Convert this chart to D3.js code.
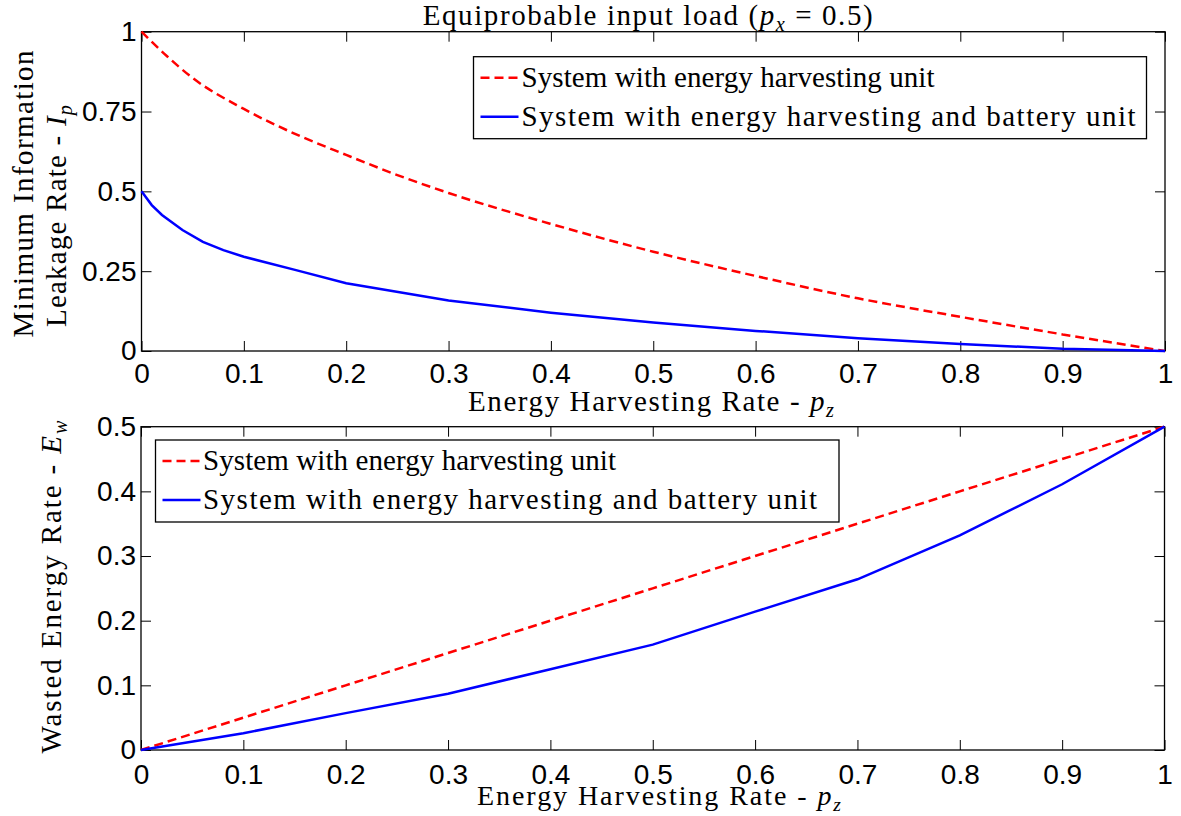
<!DOCTYPE html>
<html>
<head>
<meta charset="utf-8">
<script src="https://cdn.jsdelivr.net/npm/d3@7"></script>
<style>
  body { margin: 0; background: #fff; }
  .serif { font-family: "Liberation Serif", "DejaVu Serif", serif; fill: #000; }
</style>
</head>
<body>
<div class="canvas"></div>
<script>
// x values (energy harvesting rate p_z)
const pzHarvest = [0, 0.025, 0.05, 0.1, 0.15, 0.2, 0.25, 0.3, 0.4, 0.5, 0.6, 0.7, 0.8, 0.9, 1];
const leakHarvest = [1, 0.923, 0.855, 0.758, 0.68, 0.614, 0.551, 0.495, 0.398, 0.311, 0.235, 0.165, 0.107, 0.052, 0];

const pzBattery = [0, 0.01, 0.02, 0.04, 0.06, 0.08, 0.1, 0.15, 0.2, 0.3, 0.4, 0.5, 0.6, 0.7, 0.8, 0.9, 1];
const leakBattery = [0.5, 0.457, 0.426, 0.379, 0.342, 0.316, 0.295, 0.254, 0.212, 0.158, 0.12, 0.089, 0.063, 0.04, 0.022, 0.007, 0];

// bottom plot
const pzWaste = [0, 0.1, 0.2, 0.3, 0.4, 0.5, 0.6, 0.7, 0.8, 0.9, 1];
const wasteHarvest = [0, 0.05, 0.1, 0.15, 0.2, 0.25, 0.3, 0.35, 0.4, 0.45, 0.5];
const wasteBattery = [0, 0.026, 0.057, 0.087, 0.125, 0.163, 0.214, 0.264, 0.332, 0.411, 0.5];

// ticks
const xTicks = [0, 0.1, 0.2, 0.3, 0.4, 0.5, 0.6, 0.7, 0.8, 0.9, 1];
const xTickLabels = ['0', '0.1', '0.2', '0.3', '0.4', '0.5', '0.6', '0.7', '0.8', '0.9', '1'];
const yTicksTop = [0, 0.25, 0.5, 0.75, 1];
const yTickLabelsTop = ['0', '0.25', '0.5', '0.75', '1'];
const yTicksBottom = [0, 0.1, 0.2, 0.3, 0.4, 0.5];
const yTickLabelsBottom = ['0', '0.1', '0.2', '0.3', '0.4', '0.5'];

const legendLabels = ['System with energy harvesting unit', 'System with energy harvesting and battery unit'];

const svg = d3.select('.canvas')
    .append('svg')
    .attr('width', 1181)
    .attr('height', 816);

const tickFont = '"Liberation Sans", Arial, Helvetica, sans-serif';

// draws one panel, returns the group + scales
function panel(box, yMax, yTicks, yLabels, padBottom) {
    const x = d3.scaleLinear().domain([0, 1]).range([0, box.w]);
    const y = d3.scaleLinear().domain([0, yMax]).range([box.h, 0]);
    const g = svg.append('g').attr('transform', `translate(${box.x}, ${box.y})`);

    g.append('g')
        .attr('transform', `translate(0, ${box.h})`)
        .call(d3.axisBottom(x).tickValues(xTicks).tickSizeInner(-10).tickSizeOuter(0)
            .tickPadding(padBottom).tickFormat((d, i) => xTickLabels[i]));
    g.append('g')
        .call(d3.axisTop(x).tickValues(xTicks).tickSizeInner(-10).tickSizeOuter(0).tickFormat(''));
    g.append('g')
        .call(d3.axisLeft(y).tickValues(yTicks).tickSizeInner(-10).tickSizeOuter(0)
            .tickPadding(5).tickFormat((d, i) => yLabels[i]));
    g.append('g')
        .attr('transform', `translate(${box.w}, 0)`)
        .call(d3.axisRight(y).tickValues(yTicks).tickSizeInner(-10).tickSizeOuter(0).tickFormat(''));
    g.selectAll('.domain').remove();
    g.selectAll('.tick text')
        .attr('fill', '#000')
        .attr('font-family', tickFont)
        .attr('font-size', 28);
    g.selectAll('.tick line').attr('stroke', '#000');

    g.append('rect')
        .attr('width', box.w)
        .attr('height', box.h)
        .attr('fill', 'none')
        .attr('stroke', '#000')
        .attr('stroke-width', 1.3);
    return { g, x, y };
}

function drawLine(p, xs, ys, color, dashed, curve) {
    const line = d3.line()
        .x(d => p.x(d[0]))
        .y(d => p.y(d[1]))
        .curve(curve || d3.curveLinear);
    p.g.append('path')
        .datum(xs.map((v, i) => [v, ys[i]]))
        .attr('d', line)
        .attr('fill', 'none')
        .attr('stroke', color)
        .attr('stroke-width', 2.5)
        .attr('stroke-dasharray', dashed ? '9,5' : null);
}

function legend(p, lx, ly, lw, lh, tx) {
    const lg = p.g.append('g').attr('transform', `translate(${lx}, ${ly})`);
    lg.append('rect')
        .attr('width', lw).attr('height', lh)
        .attr('fill', '#fff').attr('stroke', '#000').attr('stroke-width', 1.3);
    const styles = [{ c: '#ff0000', dash: '9,5' }, { c: '#0000ff', dash: null }];
    legendLabels.forEach((t, i) => {
        const cy = 21 + i * 39;
        lg.append('line')
            .attr('x1', 7).attr('x2', 45).attr('y1', cy).attr('y2', cy)
            .attr('stroke', styles[i].c).attr('stroke-width', 2.5)
            .attr('stroke-dasharray', styles[i].dash);
        lg.append('text')
            .attr('class', 'serif')
            .attr('x', tx).attr('y', cy + 9)
            .attr('font-size', 29)
            .attr('textLength', i === 1 ? 614 : 413)
            .attr('lengthAdjust', 'spacing')
            .text(t);
    });
}

// math label helper: base text + italic symbol with subscript
function mathText(sel, pre, sym, sub, post, size) {
    sel.append('tspan').text(pre);
    sel.append('tspan').attr('font-style', 'italic').text(sym);
    sel.append('tspan').attr('font-style', 'italic').attr('font-size', size * 0.7)
        .attr('dy', size * 0.22).text(sub);
    if (post) sel.append('tspan').attr('dy', -size * 0.22).text(post);
}

// ---- top panel
const topPanel = panel({ x: 141.5, y: 31.7, w: 1023.5, h: 319.3 }, 1, yTicksTop, yTickLabelsTop, 12);
drawLine(topPanel, pzHarvest, leakHarvest, '#ff0000', true, d3.curveMonotoneX);
drawLine(topPanel, pzBattery, leakBattery, '#0000ff', false);
legend(topPanel, 332, 25, 673, 82, 48);

// ---- bottom panel
const botPanel = panel({ x: 141, y: 426.7, w: 1023.5, h: 323.3 }, 0.5, yTicksBottom, yTickLabelsBottom, 14);
drawLine(botPanel, pzWaste, wasteHarvest, '#ff0000', true);
drawLine(botPanel, pzWaste, wasteBattery, '#0000ff', false);
legend(botPanel, 14.5, 13.3, 683.5, 82, 47.5);

// ---- titles / labels
const title = svg.append('text').attr('class', 'serif')
    .attr('x', 647.7).attr('y', 25).attr('text-anchor', 'middle')
    .attr('font-size', 29).attr('textLength', 450).attr('lengthAdjust', 'spacing');
mathText(title, 'Equiprobable input load (', 'p', 'x', ' = 0.5)', 29);

const xl1 = svg.append('text').attr('class', 'serif')
    .attr('x', 651).attr('y', 411).attr('text-anchor', 'middle')
    .attr('font-size', 29).attr('textLength', 366).attr('lengthAdjust', 'spacing');
mathText(xl1, 'Energy Harvesting Rate - ', 'p', 'z', null, 29);

const xl2 = svg.append('text').attr('class', 'serif')
    .attr('x', 659).attr('y', 805).attr('text-anchor', 'middle')
    .attr('font-size', 28).attr('textLength', 364).attr('lengthAdjust', 'spacing');
mathText(xl2, 'Energy Harvesting Rate - ', 'p', 'z', null, 28);

svg.append('text').attr('class', 'serif')
    .attr('transform', 'translate(33, 194) rotate(-90)')
    .attr('text-anchor', 'middle')
    .attr('font-size', 29).attr('textLength', 287).attr('lengthAdjust', 'spacing')
    .text('Minimum Information');

const yl2 = svg.append('text').attr('class', 'serif')
    .attr('transform', 'translate(66, 216) rotate(-90)')
    .attr('text-anchor', 'middle')
    .attr('font-size', 29).attr('textLength', 222).attr('lengthAdjust', 'spacing');
mathText(yl2, 'Leakage Rate - ', 'I', 'p', null, 29);

const yl3 = svg.append('text').attr('class', 'serif')
    .attr('transform', 'translate(61, 587) rotate(-90)')
    .attr('text-anchor', 'middle')
    .attr('font-size', 29).attr('textLength', 333).attr('lengthAdjust', 'spacing');
mathText(yl3, 'Wasted Energy Rate - ', 'E', 'w', null, 29);
</script>
</body>
</html>
